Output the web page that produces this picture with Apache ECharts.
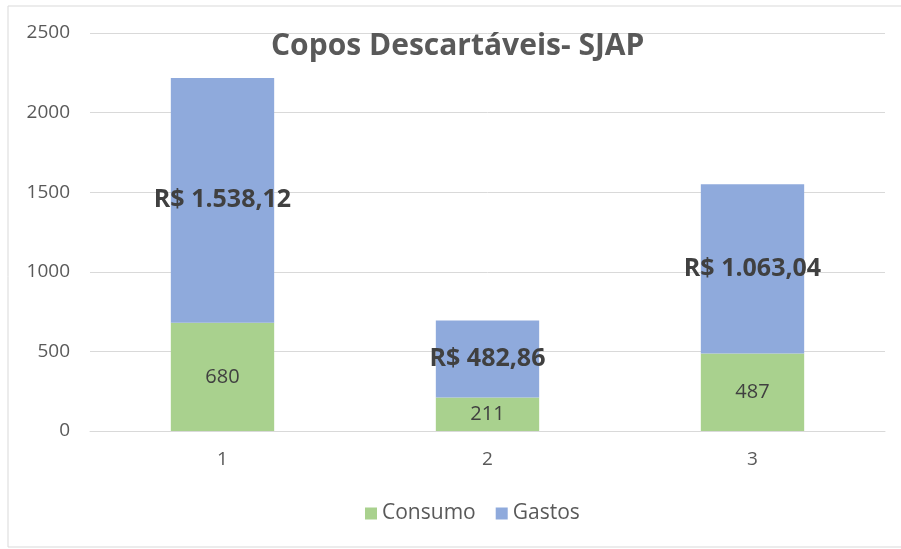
<html>
<head>
<meta charset="utf-8">
<title>Copos Descartáveis - SJAP</title>
<script src="https://cdn.jsdelivr.net/npm/echarts@6/dist/echarts.min.js"></script>
<style>
  body { margin: 0; background: #fff; }
  #main { width: 901px; height: 549px; }
</style>
</head>
<body>
<div id="main"></div>
<script type="text/javascript">
var categorias = ['1', '2', '3'];
var consumo = [680, 211, 487];
var gastos = [1538.12, 482.86, 1063.04];

function reais(v) {
  var p = v.toFixed(2).split('.');
  var inteiro = p[0].replace(/\B(?=(\d{3})+(?!\d))/g, '.');
  return 'R$ ' + inteiro + ',' + p[1];
}

var myChart = echarts.init(document.getElementById('main'));
var fonte = 'Open Sans, Noto Sans, sans-serif';

myChart.setOption({
  backgroundColor: '#fff',
  animation: false,
  textStyle: { fontFamily: fonte },
  graphic: [{
    type: 'rect',
    shape: { x: 8, y: 6, width: 900, height: 541 },
    style: { fill: 'none', stroke: '#d9d9d9', lineWidth: 1 },
    silent: true
  }],
  title: {
    text: 'Copos Descartáveis- SJAP',
    left: 271,
    top: 31,
    padding: 0,
    textStyle: { fontSize: 30, fontWeight: 'bold', color: '#595959', fontFamily: fonte }
  },
  legend: {
    bottom: 20,
    left: 360,
    itemWidth: 12,
    itemHeight: 12,
    itemGap: 20,
    icon: 'rect',
    textStyle: { fontSize: 21, color: '#595959' },
    data: ['Consumo', 'Gastos']
  },
  grid: { left: 90, right: 16, top: 33, bottom: 118, containLabel: false },
  xAxis: {
    type: 'category',
    data: categorias,
    axisLine: { show: true, lineStyle: { color: '#d9d9d9' } },
    axisTick: { show: false },
    axisLabel: { color: '#595959', fontSize: 19, margin: 19 }
  },
  yAxis: {
    type: 'value',
    min: 0,
    max: 2500,
    interval: 500,
    axisLine: { show: false },
    axisTick: { show: false },
    splitLine: { lineStyle: { color: '#d9d9d9' } },
    axisLabel: { color: '#595959', fontSize: 19, margin: 20, formatter: function (v) { return String(v); } }
  },
  series: [{
    name: 'Consumo',
    type: 'bar',
    stack: 'total',
    barWidth: '39%',
    itemStyle: { color: '#a9d18e' },
    label: { show: true, position: 'inside', color: '#404040', fontSize: 20 },
    data: consumo
  }, {
    name: 'Gastos',
    type: 'bar',
    stack: 'total',
    itemStyle: { color: '#8faadc' },
    label: {
      show: true,
      position: 'inside',
      color: '#404040',
      fontSize: 25,
      fontWeight: 'bold',
      formatter: function (p) { return reais(p.value); }
    },
    data: gastos
  }]
});
</script>
</body>
</html>
